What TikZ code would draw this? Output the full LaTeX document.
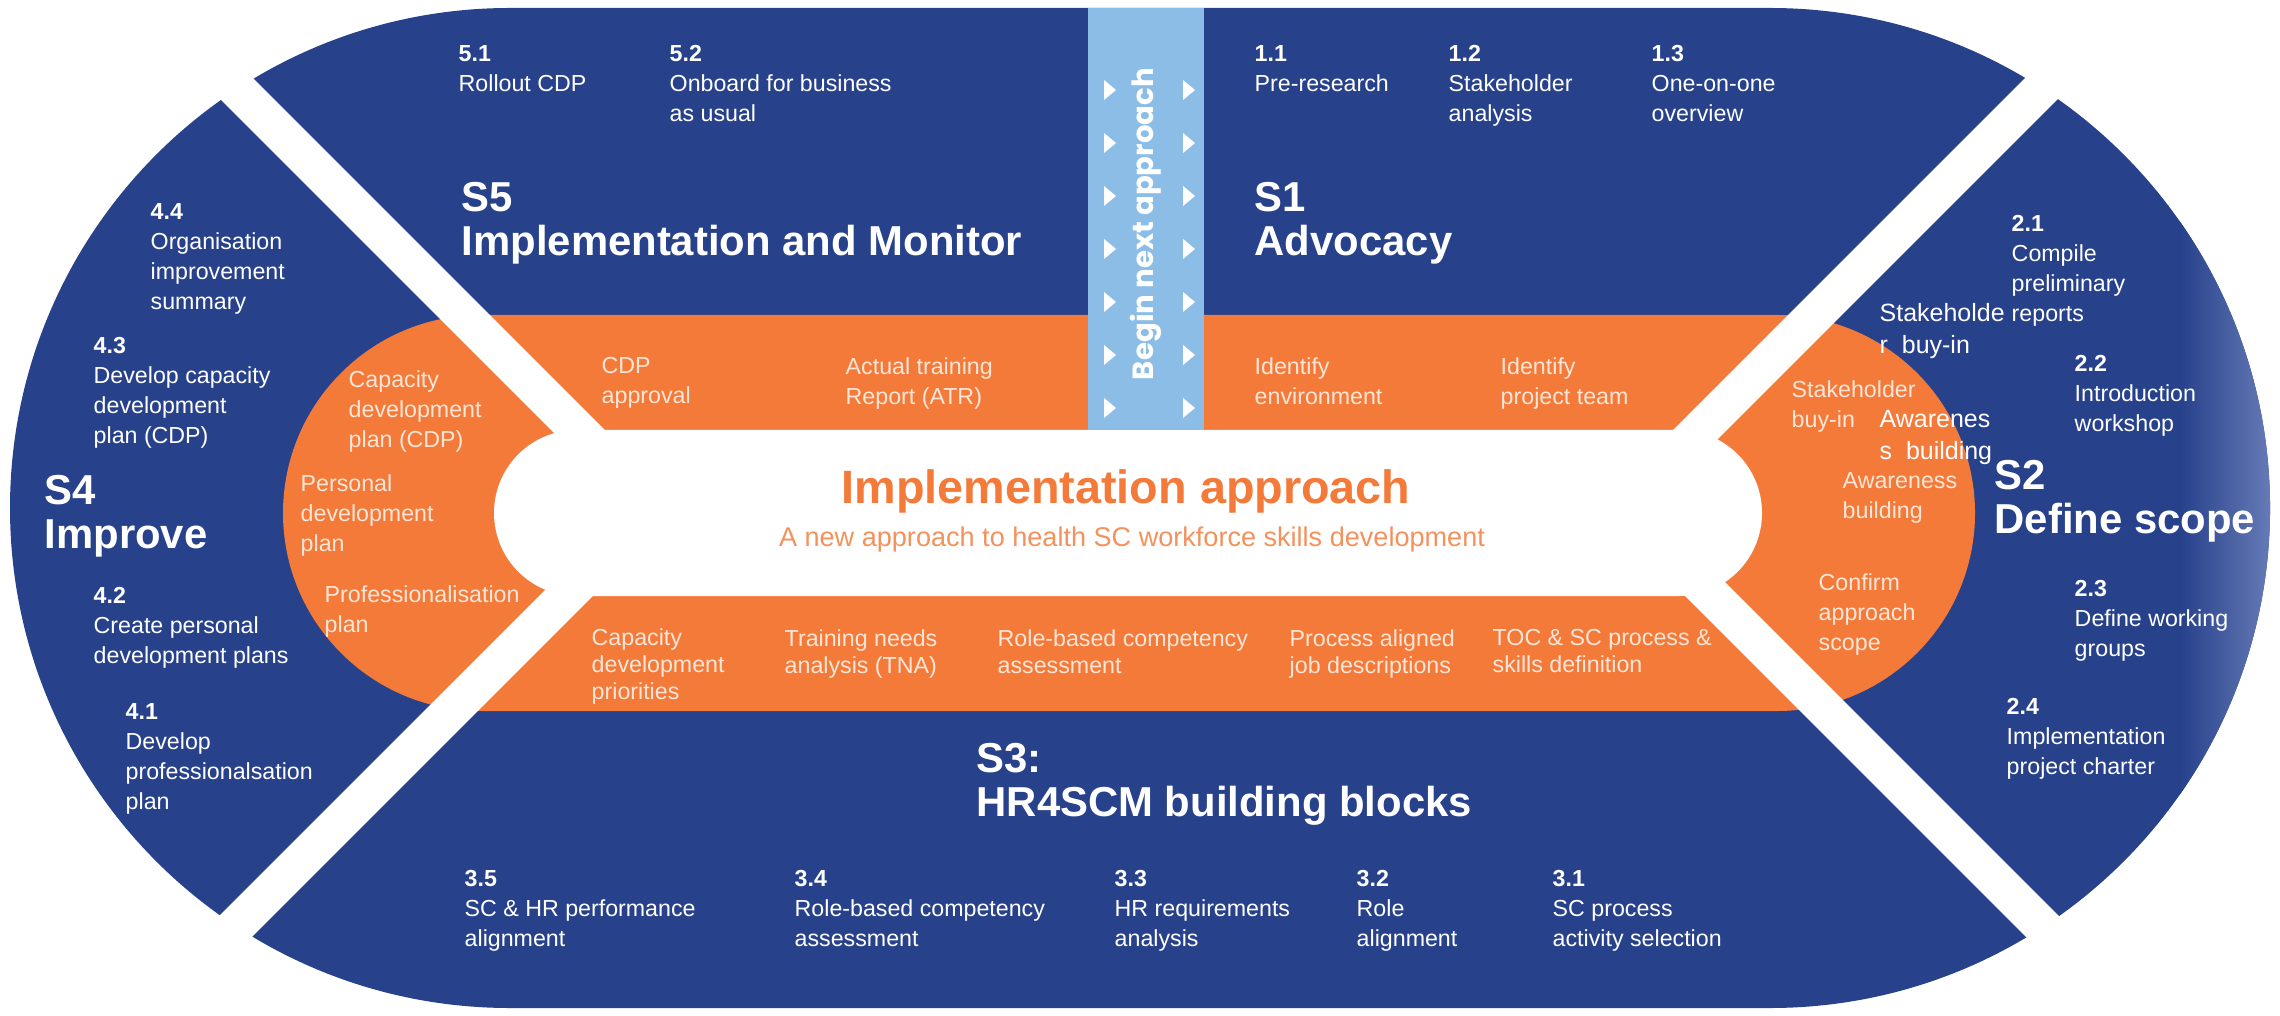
\documentclass[tikz,border=0pt]{standalone}
\usepackage{fontspec}
\setmainfont{Liberation Sans}
\newfontfamily\barfont{Poppins}
\definecolor{hrblue}{HTML}{27418B}
\definecolor{hredge}{HTML}{6C80BA}
\definecolor{hrorange}{HTML}{F47A3A}
\definecolor{hrbar}{HTML}{8CBDE6}
\definecolor{hrpale}{HTML}{FDE6D8}
\definecolor{hrsub}{HTML}{F3925C}
\newcommand\itemfont{\fontsize{6.6pt}{8.5pt}\selectfont}
\newcommand\lowbandfont{\fontsize{6.6pt}{7.7pt}\selectfont}
\newcommand\headfont{\fontsize{11.9pt}{12.3pt}\selectfont\bfseries}
\newcommand\overfont{\fontsize{7.1pt}{9.1pt}\selectfont}
\tikzset{
  item/.style={anchor=north west, align=left, inner sep=0pt, text=white, font=\itemfont},
  band/.style={item, text=hrpale},
  lowband/.style={band, font=\lowbandfont},
  head/.style={anchor=north west, align=left, inner sep=0pt, text=white, font=\headfont},
  overlay text/.style={item, font=\overfont},
  gap/.style={draw=white, line width=0.38cm},
  marker/.style={fill=white},
}
\begin{document}
\begin{tikzpicture}[x=0.01cm,y=-0.01cm]
\useasboundingbox (0,0) rectangle (2280,1016);
% outer ring
\fill[hrblue] (510,8) -- (1770,8) arc[start angle=-90,end angle=90,radius=500]
  -- (510,1008) arc[start angle=90,end angle=270,radius=500] -- cycle;
\begin{scope}
  \clip (510,8) -- (1770,8) arc[start angle=-90,end angle=90,radius=500]
    -- (510,1008) arc[start angle=90,end angle=270,radius=500] -- cycle;
  \shade[left color=hrblue, right color=hredge] (2180,0) rectangle (2280,1016);
\end{scope}
% orange ring
\fill[hrorange] (481,315) -- (1777,315) arc[start angle=-90,end angle=90,radius=198]
  -- (481,711) arc[start angle=90,end angle=270,radius=198] -- cycle;
% white core
\fill[white] (577,430) -- (1679,430) arc[start angle=-90,end angle=90,radius=83]
  -- (577,596) arc[start angle=90,end angle=270,radius=83] -- cycle;
% diagonal separators
\coordinate (xl) at (655,507);
\coordinate (xr) at (1623,507);
\coordinate (tl) at (-45,-193);
\coordinate (bl) at (-45,1207);
\coordinate (tr) at (2323,-193);
\coordinate (br) at (2323,1207);
\draw[gap] (xl) -- (tl);
\draw[gap] (xl) -- (bl);
\draw[gap] (xr) -- (tr);
\draw[gap] (xr) -- (br);
% vertical bar
\fill[hrbar] (1088,8) rectangle (1204,430);
\foreach \y in {90,143,196,249,302,355,408}{
  \foreach \x in {1110,1189}{
    \fill[marker] (\x-6,\y-10) -- (\x+6,\y) -- (\x-6,\y+10) -- cycle;
  }
}
\node[rotate=90, inner sep=0pt, text=white, font=\barfont\bfseries\fontsize{8.3pt}{10pt}\selectfont] (barlabel) at (1146,224) {Begin next approach};
% centre title
\node[anchor=base, inner sep=0pt, text=hrorange, font=\fontsize{13.3pt}{16pt}\selectfont\bfseries] (title) at (1126,504) {Implementation approach};
\node[anchor=base, inner sep=0pt, text=hrsub, font=\fontsize{7.7pt}{9pt}\selectfont] (subtitle) at (1132,547) {A new approach to health SC workforce skills development};
% stage headings
\node[head] (s5) at (461,182) {S5\\Implementation and Monitor};
\node[head] (s1) at (1254,182) {S1\\Advocacy};
\node[head] (s4) at (44,475) {S4\\Improve};
\node[head] (s2) at (1994,460) {S2\\Define scope};
\node[head] (s3) at (976,743) {S3:\\HR4SCM building blocks};
% S5 and S1 steps
\node[item] (i51) at (458,45) {\textbf{5.1}\\Rollout CDP};
\node[item] (i52) at (669,45) {\textbf{5.2}\\Onboard for business\\as usual};
\node[item] (i11) at (1254,45) {\textbf{1.1}\\Pre-research};
\node[item] (i12) at (1448,45) {\textbf{1.2}\\Stakeholder\\analysis};
\node[item] (i13) at (1651,45) {\textbf{1.3}\\One-on-one\\overview};
% S4 steps
\node[item] (i44) at (150,203) {\textbf{4.4}\\Organisation\\improvement\\summary};
\node[item] (i43) at (93,337) {\textbf{4.3}\\Develop capacity\\development\\plan (CDP)};
\node[item] (i42) at (93,587) {\textbf{4.2}\\Create personal\\development plans};
\node[item] (i41) at (125,703) {\textbf{4.1}\\Develop\\professionalsation\\plan};
% S2 steps
\node[item] (i21) at (2011,215) {\textbf{2.1}\\Compile\\preliminary\\reports};
\node[item] (i22) at (2074,355) {\textbf{2.2}\\Introduction\\workshop};
\node[item] (i23) at (2074,580) {\textbf{2.3}\\Define working\\groups};
\node[item] (i24) at (2006,698) {\textbf{2.4}\\Implementation\\project charter};
% S3 steps
\node[item] (i35) at (464,870) {\textbf{3.5}\\SC \& HR performance\\alignment};
\node[item] (i34) at (794,870) {\textbf{3.4}\\Role-based competency\\assessment};
\node[item] (i33) at (1114,870) {\textbf{3.3}\\HR requirements\\analysis};
\node[item] (i32) at (1356,870) {\textbf{3.2}\\Role\\alignment};
\node[item] (i31) at (1552,870) {\textbf{3.1}\\SC process\\activity selection};
% outputs on the orange ring
\node[band] (o1) at (601,357) {CDP\\approval};
\node[band] (o2) at (845,357) {Actual training\\Report (ATR)};
\node[band] (o3) at (1254,357) {Identify\\environment};
\node[band] (o4) at (1500,357) {Identify\\project team};
\node[band] (o5) at (348,370) {Capacity\\development\\plan (CDP)};
\node[band] (o6) at (300,474) {Personal\\development\\plan};
\node[band] (o7) at (324,585) {Professionalisation\\plan};
\node[band] (o8) at (1791,380) {Stakeholder\\buy-in};
\node[band] (o9) at (1842,472) {Awareness\\building};
\node[band] (o10) at (1818,573) {Confirm\\approach\\scope};
\node[lowband] (o11) at (591,628) {Capacity\\development\\priorities};
\node[lowband] (o12) at (784,629) {Training needs\\analysis (TNA)};
\node[lowband] (o13) at (997,629) {Role-based competency\\assessment};
\node[lowband] (o14) at (1289,629) {Process aligned\\job descriptions};
\node[lowband] (o15) at (1492,629) {TOC \& SC process \&\\skills definition};
% loose labels in the S2 sector
\node[overlay text] (x1) at (1879,303) {Stakeholde\\r~~buy-in};
\node[overlay text] (x2) at (1879,410) {Awarenes\\s~~building};
\end{tikzpicture}
\end{document}
